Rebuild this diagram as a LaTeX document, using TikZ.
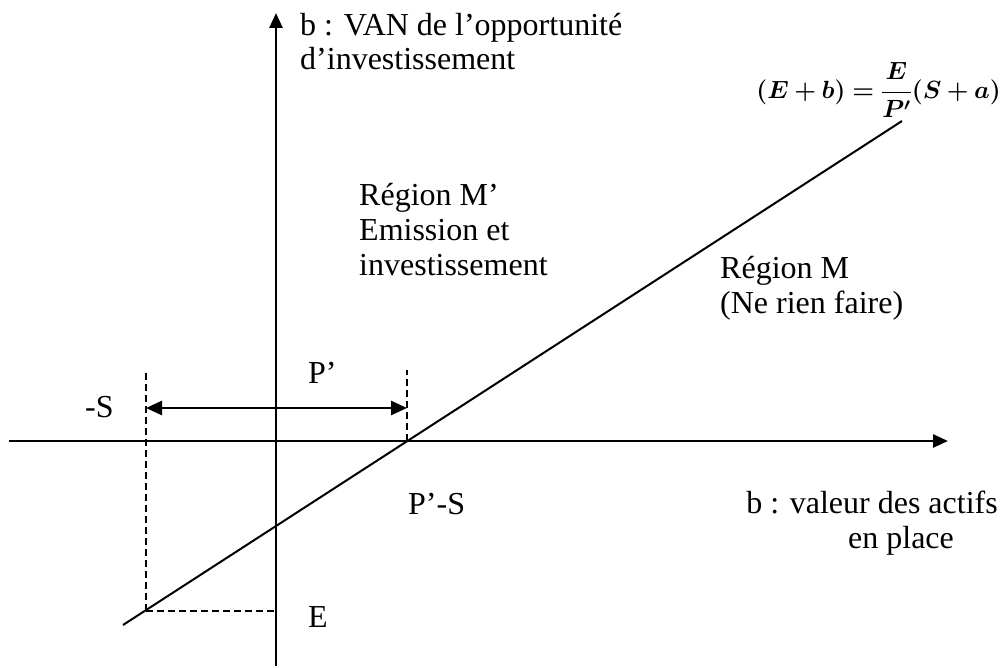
\documentclass[tikz,border=0pt]{standalone}
\usepackage{amsmath}
\usepackage{bm}
\usepackage{fontspec}
\setmainfont{Liberation Serif}
\usetikzlibrary{arrows.meta}
\begin{document}
\begin{tikzpicture}[x=1pt,y=-1pt,
  axis/.style={line width=2.6pt,-{Triangle[length=15pt,width=13pt]}},
  mainline/.style={line width=2pt},
  guide/.style={line width=1.7pt,dash pattern=on 7pt off 4pt},
  dimarrow/.style={line width=2.6pt,{Triangle[length=16pt,width=14pt]}-{Triangle[length=16pt,width=14pt]}},
  lbl/.style={inner sep=0pt,font=\fontsize{32}{36}\selectfont},
]
\useasboundingbox (0,0) rectangle (1004,668);
% coordinates
\coordinate (ybot) at (276,666);
\coordinate (ytop) at (276,13);
\coordinate (xl) at (9,441);
\coordinate (xr) at (948,441);
\coordinate (low) at (123,625);
\coordinate (high) at (902,121);
\coordinate (PS) at (407,441);
\coordinate (PStop) at (407,370);
\coordinate (mStop) at (146,370);
\coordinate (mSlow) at (146,611);
\coordinate (Eax) at (276,611);
\coordinate (arrL) at (146,408);
\coordinate (arrR) at (407,408);
% axes
\draw[axis] (ybot) -- (ytop);
\draw[axis] (xl) -- (xr);
% main line
\draw[mainline] (low) -- (high);
% guides
\draw[guide] (PS) -- (PStop);
\draw[guide] (mSlow) -- (mStop);
\draw[guide] (mSlow) -- (Eax);
% dimension arrow
\draw[dimarrow] (arrL) -- (arrR);
% labels
\node[lbl,anchor=base west] (vl1) at (300,36) {b : VAN de l’opportunité};
\node[lbl,anchor=base west] (vl2) at (300,70) {d’investissement};
\node[inner sep=0pt,anchor=east,font=\fontsize{23}{28}\selectfont] (formula) at (1001,90)
  {$\boldsymbol{(E+b)=\dfrac{E}{P'}(S+a)}$};
\node[lbl,anchor=base west] (rmp1) at (359,206) {Région M’};
\node[lbl,anchor=base west] (rmp2) at (359,241) {Emission et};
\node[lbl,anchor=base west] (rmp3) at (359,276) {investissement};
\node[lbl,anchor=base west] (rm1) at (720,279) {Région M};
\node[lbl,anchor=base west] (rm2) at (720,314) {(Ne rien faire)};
\node[lbl,anchor=base west] (lP) at (308,383) {P’};
\node[lbl,anchor=base west] (lmS) at (85,417) {-S};
\node[lbl,anchor=base west] (lPS) at (408,514) {P’-S};
\node[lbl,anchor=base] (hl1) at (872,513) {b : valeur des actifs};
\node[lbl,anchor=base] (hl2) at (901,548) {en place};
\node[lbl,anchor=base west] (lE) at (308,627) {E};
\end{tikzpicture}
\end{document}
